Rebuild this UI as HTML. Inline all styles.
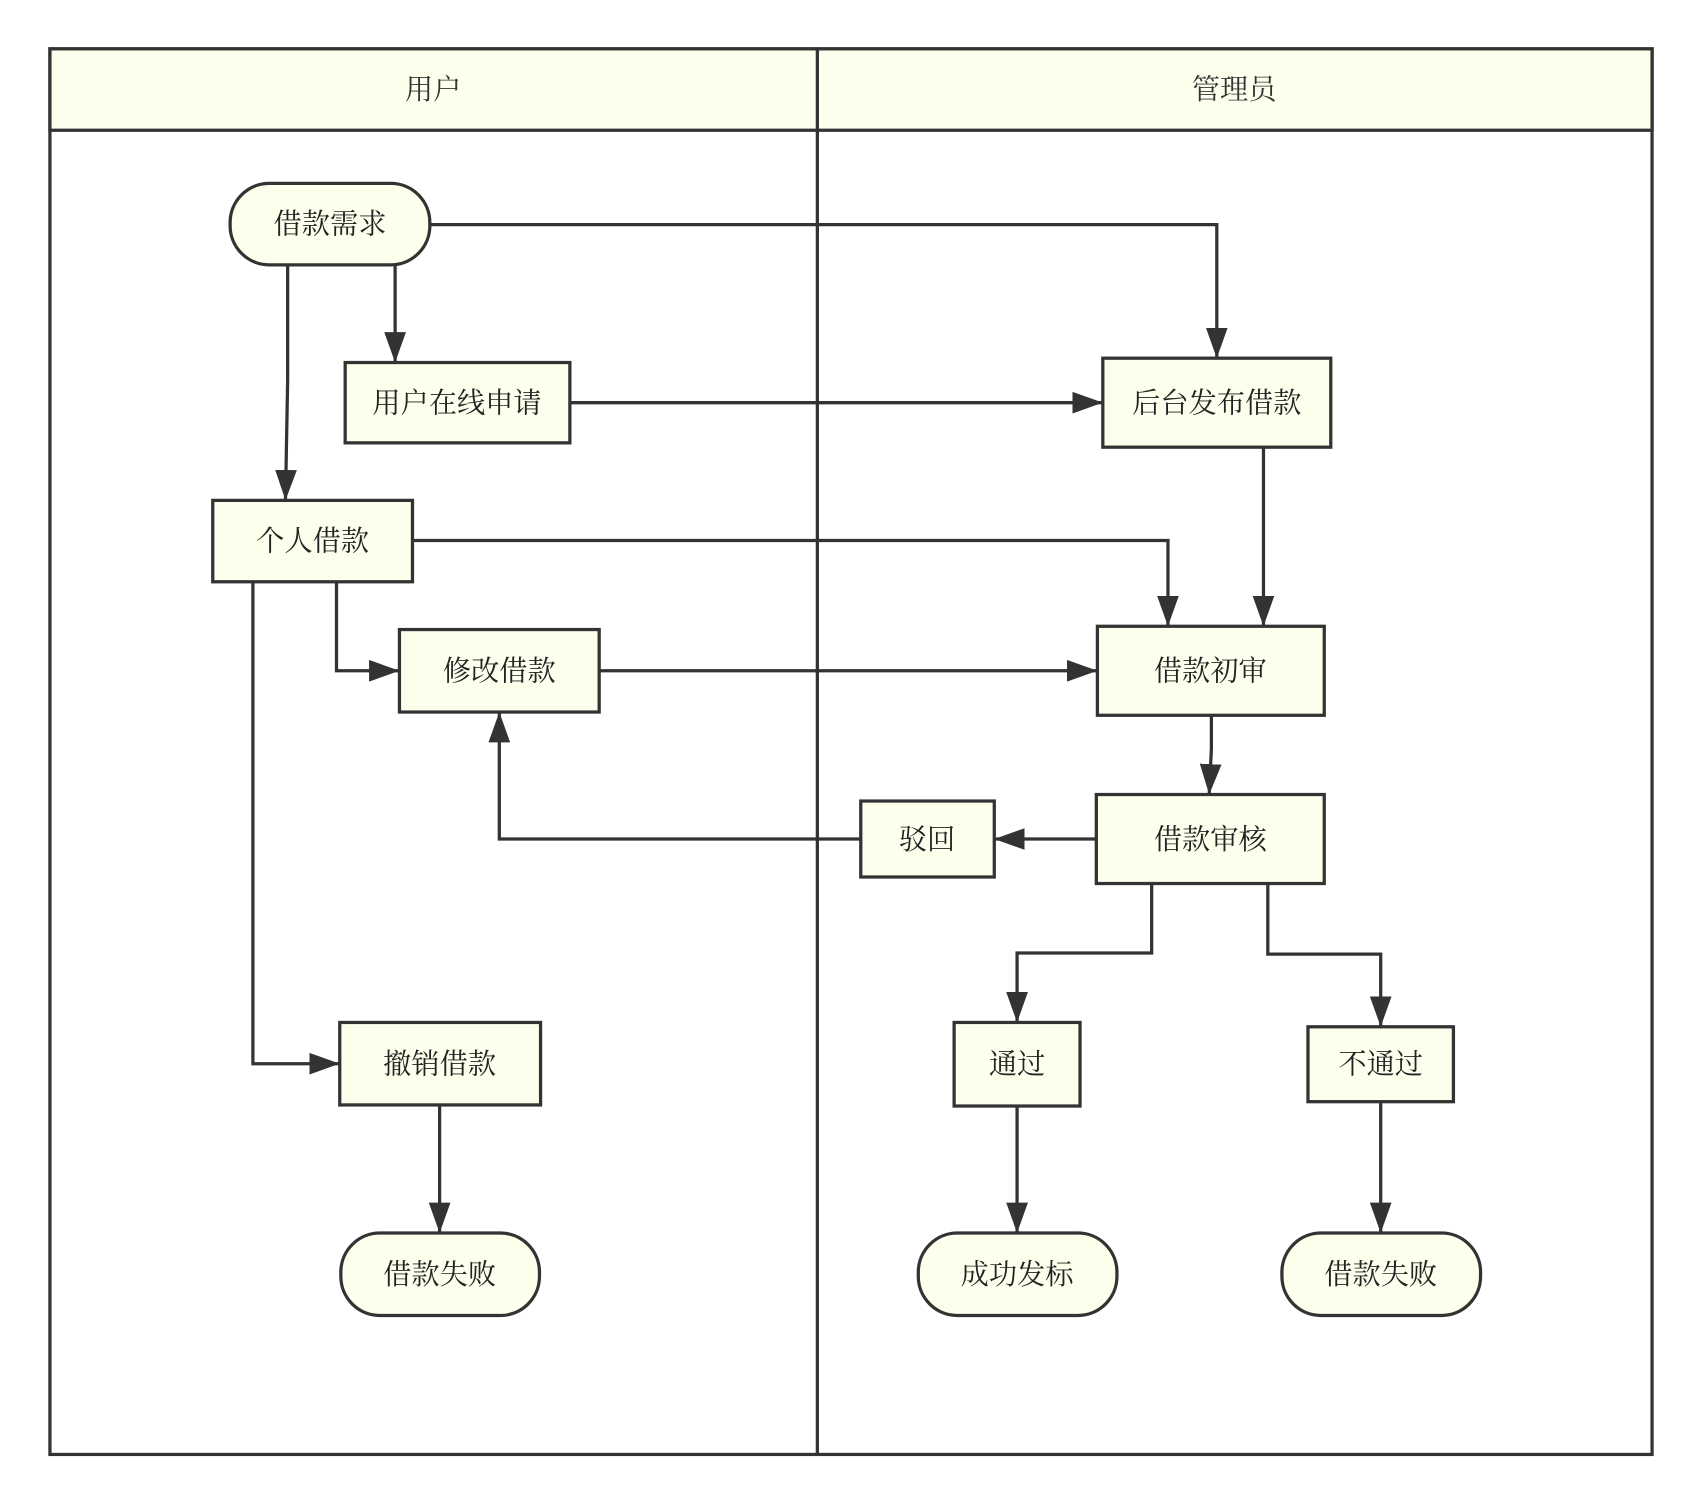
<!DOCTYPE html>
<html><head><meta charset="utf-8"><style>html,body{margin:0;padding:0;background:#fff}svg{display:block}</style></head>
<body>
<svg width="1702" height="1506" viewBox="0 0 1568 1387.5" preserveAspectRatio="none" xmlns="http://www.w3.org/2000/svg">
<defs>
<marker id="b" viewBox="0 0 10 10" refX="10" refY="5" markerWidth="28" markerHeight="20" markerUnits="userSpaceOnUse" orient="auto" preserveAspectRatio="none"><path d="M0,0L10,5L0,10z" fill="#333"/></marker></defs>
<g stroke="#333" stroke-width="3" fill="none">
<rect x="46" y="45" width="1476" height="1295" fill="#fff"/>
<rect x="46" y="45" width="1476" height="75" fill="#fefeec"/>
<line x1="753" y1="45" x2="753" y2="1340"/>
</g>
<g font-family="'Liberation Serif','Noto Serif CJK SC',serif" font-size="26" fill="#333" text-anchor="middle">
<text x="399" y="91">用户</text><text x="1137" y="91">管理员</text>
</g>
<g stroke="#333" stroke-width="3" fill="none" marker-end="url(#b)">
<path d="M396,207H1121V330"/>
<path d="M364,244V334"/>
<path d="M265,244V350L263,461"/>
<path d="M525,371H1016"/>
<path d="M1164,412V577"/>
<path d="M380,498H1076V577"/>
<path d="M310,536V618H368"/>
<path d="M552,618H1011"/>
<path d="M1116,659V690L1114,732"/>
<path d="M1010,773H916"/>
<path d="M793,773H460V656"/>
<path d="M1061,814V878H937V942"/>
<path d="M1168,814V879H1272V946"/>
<path d="M233,536V980H313"/>
<path d="M405,1018V1136"/>
<path d="M937,1019V1136"/>
<path d="M1272,1015V1136"/>
</g>
<g stroke="#333" stroke-width="3" fill="#fefeec">
<rect x="212" y="169" width="184" height="75" rx="36"/>
<rect x="318" y="334" width="207" height="74"/>
<rect x="1016" y="330" width="210" height="82"/>
<rect x="196" y="461" width="184" height="75"/>
<rect x="368" y="580" width="184" height="76"/>
<rect x="1011" y="577" width="209" height="82"/>
<rect x="793" y="738" width="123" height="70"/>
<rect x="1010" y="732" width="210" height="82"/>
<rect x="879" y="942" width="116" height="77"/>
<rect x="1205" y="946" width="134" height="69"/>
<rect x="313" y="942" width="185" height="76"/>
<rect x="314" y="1136" width="183" height="76" rx="36"/>
<rect x="846" y="1136" width="183" height="76" rx="36"/>
<rect x="1181" y="1136" width="183" height="76" rx="36"/>
</g>
<g font-family="'Liberation Serif','Noto Serif CJK SC',serif" font-size="26" fill="#222" text-anchor="middle">
<text x="304" y="215">借款需求</text>
<text x="421" y="380">用户在线申请</text>
<text x="1121" y="380">后台发布借款</text>
<text x="288" y="507">个人借款</text>
<text x="460" y="627">修改借款</text>
<text x="1115" y="627">借款初审</text>
<text x="854" y="782">驳回</text>
<text x="1115" y="782">借款审核</text>
<text x="937" y="989">通过</text>
<text x="1272" y="989">不通过</text>
<text x="405" y="989">撤销借款</text>
<text x="405" y="1183">借款失败</text>
<text x="937" y="1183">成功发标</text>
<text x="1272" y="1183">借款失败</text>
</g>
</svg>
</body></html>
